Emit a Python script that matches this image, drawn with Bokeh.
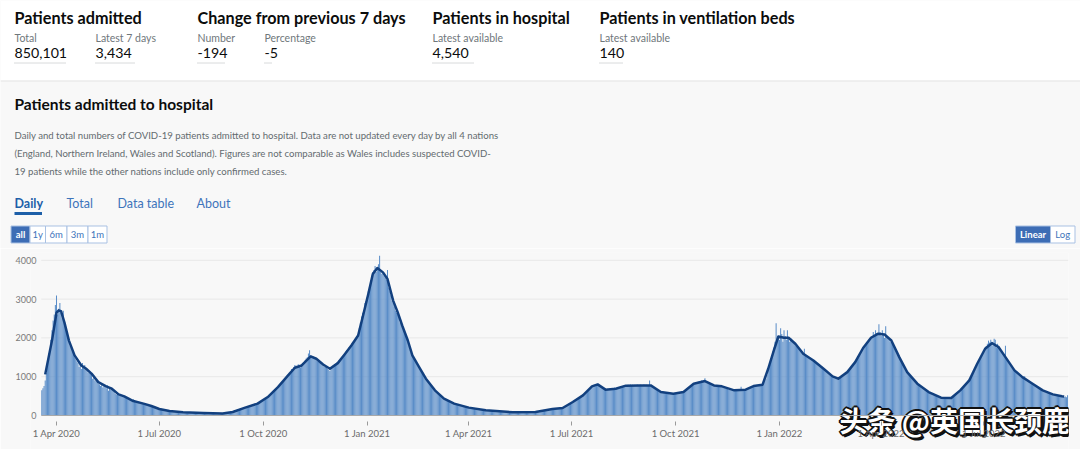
from datetime import datetime, timedelta

import pandas as pd
from bokeh.core.properties import value
from bokeh.embed import file_html
from bokeh.models import FixedTicker, Range1d
from bokeh.plotting import figure
from bokeh.resources import INLINE

# ---------------------------------------------------------------- data
headline_titles = ["Patients admitted", "Change from previous 7 days",
                   "Patients in hospital", "Patients in ventilation beds"]
metric_labels = ["Total", "Latest 7 days", "Number", "Percentage",
                 "Latest available", "Latest available"]
metric_values = ["850,101", "3,434", "-194", "-5", "4,540", "140"]

section_title = "Patients admitted to hospital"
description = [
    "Daily and total numbers of COVID-19 patients admitted to hospital. Data are not updated every day by all 4 nations",
    "(England, Northern Ireland, Wales and Scotland). Figures are not comparable as Wales includes suspected COVID-",
    "19 patients while the other nations include only confirmed cases.",
]
tabs = ["Daily", "Total", "Data table", "About"]
range_buttons = ["all", "1y", "6m", "3m", "1m"]
scale_buttons = ["Linear", "Log"]

first_day = "2020-03-19"
# daily patients admitted (one value per day)
admissions_daily = [
    650, 700, 760, 900, 1100, 1350, 1600,
    1700, 1950, 2200, 2450, 2600, 2850, 3090,
    2600, 2750, 2900, 2650, 2500, 2700, 2450,
    2300, 2100, 2050, 1900, 1800, 1750, 1650,
    1600, 1500, 1450, 1400, 1350, 1250, 1300,
    1200, 1350, 1250, 1300, 1220, 1150, 1100,
    1130, 1080, 1050, 950, 1000, 900, 880,
    870, 820, 800, 760, 800, 720, 780,
    740, 700, 780, 640, 700, 660, 690,
    650, 620, 560, 540, 600, 520, 510,
    520, 500, 480, 510, 450, 470, 430,
    420, 400, 390, 380, 420, 350, 340,
    350, 330, 320, 310, 300, 330, 290,
    290, 270, 280, 260, 250, 240, 230,
    220, 210, 200, 190, 180, 175, 165,
    155, 150, 140, 135, 130, 125, 120,
    118, 115, 110, 105, 108, 100, 98,
    95, 92, 90, 88, 85, 84, 82,
    80, 78, 77, 76, 75, 74, 73,
    72, 70, 69, 68, 70, 66, 65,
    66, 64, 63, 62, 61, 63, 60,
    60, 58, 57, 56, 58, 55, 54,
    53, 52, 50, 49, 51, 48, 49,
    52, 56, 60, 65, 70, 74, 80,
    88, 95, 105, 115, 120, 130, 140,
    150, 165, 175, 185, 195, 205, 220,
    225, 235, 250, 255, 265, 270, 285,
    290, 300, 320, 330, 345, 360, 375,
    390, 410, 440, 470, 490, 510, 530,
    560, 590, 620, 650, 680, 700, 740,
    770, 800, 840, 870, 910, 930, 980,
    1000, 1050, 1100, 1130, 1200, 1170, 1250,
    1300, 1280, 1250, 1320, 1300, 1240, 1300,
    1330, 1380, 1420, 1470, 1500, 1600, 1680,
    1550, 1480, 1520, 1500, 1450, 1420, 1400,
    1380, 1350, 1360, 1300, 1290, 1250, 1260,
    1230, 1200, 1170, 1150, 1220, 1250, 1290,
    1300, 1320, 1360, 1380, 1420, 1440, 1480,
    1510, 1560, 1600, 1640, 1690, 1700, 1760,
    1780, 1820, 1850, 1900, 1950, 2000, 2050,
    2100, 2250, 2400, 2550, 2650, 2700, 2900,
    2950, 3050, 3200, 3300, 3450, 3600, 3700,
    3750, 3850, 3700, 3800, 3900, 4120, 3700,
    3650, 3700, 3600, 3550, 3500, 3750, 3300,
    3200, 3100, 2950, 2900, 2800, 2700, 2650,
    2600, 2550, 2400, 2350, 2300, 2200, 2150,
    2050, 1950, 1900, 1800, 1700, 1620, 1550,
    1480, 1430, 1380, 1330, 1290, 1240, 1200,
    1140, 1100, 1050, 1000, 960, 920, 880,
    840, 800, 760, 720, 690, 650, 620,
    590, 560, 530, 500, 480, 460, 440,
    420, 410, 395, 380, 370, 355, 345,
    320, 310, 300, 295, 290, 285, 280,
    270, 260, 250, 240, 230, 220, 210,
    205, 200, 195, 190, 185, 180, 175,
    170, 165, 160, 155, 150, 145, 140,
    136, 133, 130, 127, 125, 122, 120,
    117, 115, 112, 110, 108, 106, 105,
    102, 100, 98, 96, 95, 93, 92,
    88, 86, 85, 84, 83, 82, 82,
    82, 81, 82, 83, 84, 84, 85,
    86, 86, 87, 87, 88, 88, 89,
    90, 91, 93, 95, 97, 99, 101,
    108, 115, 122, 130, 138, 145, 150,
    155, 160, 162, 165, 170, 172, 175,
    178, 180, 183, 186, 188, 190, 195,
    210, 230, 250, 270, 285, 300, 315,
    330, 350, 370, 390, 410, 430, 450,
    470, 490, 510, 540, 560, 590, 610,
    640, 660, 690, 710, 740, 770, 790,
    800, 810, 820, 790, 760, 740, 720,
    680, 660, 670, 650, 690, 660, 700,
    680, 700, 660, 720, 690, 710, 700,
    720, 740, 730, 760, 750, 780, 770,
    780, 790, 760, 800, 770, 790, 780,
    790, 770, 800, 760, 780, 790, 770,
    780, 800, 770, 790, 760, 780, 900,
    770, 760, 740, 710, 690, 660, 640,
    620, 610, 600, 590, 580, 600, 570,
    570, 560, 580, 550, 570, 560, 560,
    560, 570, 580, 560, 590, 600, 590,
    610, 630, 650, 670, 690, 710, 730,
    750, 780, 800, 820, 830, 850, 860,
    870, 880, 860, 900, 890, 880, 960,
    870, 860, 850, 830, 810, 800, 790,
    780, 770, 760, 750, 760, 740, 750,
    740, 730, 720, 700, 690, 680, 670,
    660, 650, 650, 640, 640, 650, 630,
    640, 650, 660, 740, 660, 670, 660,
    670, 680, 700, 710, 720, 730, 745,
    760, 770, 775, 780, 785, 790, 790,
    800, 810, 850, 900, 950, 1050, 1200,
    1300, 1400, 1550, 1650, 1750, 1900, 2380,
    2000, 2050, 1950, 2250, 2100, 1900, 2200,
    2050, 1950, 2200, 2000, 1900, 2000, 1950,
    1880, 1850, 1800, 1770, 1750, 1720, 1700,
    1650, 1640, 1600, 1720, 1550, 1540, 1520,
    1490, 1470, 1450, 1430, 1410, 1390, 1380,
    1340, 1310, 1290, 1260, 1240, 1220, 1200,
    1180, 1160, 1130, 1100, 1080, 1050, 1030,
    1010, 990, 980, 970, 960, 950, 950,
    970, 990, 1010, 1040, 1060, 1090, 1120,
    1150, 1190, 1230, 1270, 1300, 1340, 1380,
    1420, 1470, 1530, 1580, 1640, 1690, 1740,
    1780, 1820, 1860, 1900, 1950, 1990, 2030,
    2050, 2150, 2080, 2200, 2120, 2100, 2350,
    2150, 2050, 2200, 2100, 2000, 2300, 2050,
    2000, 1950, 1900, 1870, 1830, 1800, 1750,
    1700, 1640, 1580, 1510, 1450, 1390, 1340,
    1280, 1240, 1190, 1140, 1100, 1050, 1010,
    980, 950, 920, 890, 860, 830, 800,
    780, 760, 740, 710, 690, 660, 640,
    620, 610, 590, 570, 560, 540, 530,
    520, 510, 500, 490, 470, 460, 455,
    455, 450, 445, 440, 445, 450, 450,
    460, 480, 500, 530, 560, 580, 610,
    630, 660, 690, 720, 750, 780, 810,
    850, 900, 950, 1000, 1050, 1100, 1160,
    1220, 1270, 1330, 1380, 1440, 1500, 1560,
    1620, 1680, 1740, 1790, 1850, 1930, 1880,
    1950, 1900, 1800, 1980, 1950, 1750, 1850,
    1750, 1700, 1650, 1620, 1580, 1540, 1800,
    1460, 1420, 1380, 1330, 1290, 1240, 1200,
    1160, 1130, 1100, 1080, 1050, 1030, 1000,
    990, 970, 1010, 950, 920, 900, 880,
    850, 840, 820, 800, 780, 760, 740,
    720, 700, 680, 660, 640, 630, 610,
    600, 590, 580, 570, 560, 550, 545,
    540, 530, 520, 510, 505, 500, 495,
    490, 485, 480, 490, 470, 520,
]

# 7-day rolling average line
avg_dates = [
    "2020-03-22", "2020-03-28", "2020-04-01", "2020-04-03", "2020-04-05", "2020-04-08",
    "2020-04-12", "2020-04-17", "2020-04-23", "2020-04-27", "2020-05-02", "2020-05-08",
    "2020-05-15", "2020-05-20", "2020-05-26", "2020-05-31", "2020-06-08", "2020-06-17",
    "2020-06-24", "2020-07-01", "2020-07-10", "2020-07-22", "2020-08-09", "2020-08-26",
    "2020-09-04", "2020-09-15", "2020-09-26", "2020-10-05", "2020-10-14", "2020-10-23",
    "2020-10-29", "2020-11-04", "2020-11-12", "2020-11-17", "2020-11-23", "2020-11-29",
    "2020-12-06", "2020-12-12", "2020-12-18", "2020-12-24", "2020-12-28", "2021-01-02",
    "2021-01-06", "2021-01-10", "2021-01-15", "2021-01-19", "2021-01-24", "2021-01-28",
    "2021-02-01", "2021-02-06", "2021-02-10", "2021-02-16", "2021-02-22", "2021-03-02",
    "2021-03-10", "2021-03-19", "2021-04-01", "2021-04-16", "2021-05-10", "2021-05-30",
    "2021-06-14", "2021-06-23", "2021-07-02", "2021-07-11", "2021-07-19", "2021-07-24",
    "2021-07-31", "2021-08-09", "2021-08-18", "2021-08-30", "2021-09-09", "2021-09-18",
    "2021-09-29", "2021-10-08", "2021-10-17", "2021-10-27", "2021-11-04", "2021-11-11",
    "2021-11-22", "2021-12-02", "2021-12-09", "2021-12-17", "2021-12-22", "2021-12-27",
    "2021-12-31", "2022-01-05", "2022-01-09", "2022-01-15", "2022-01-22", "2022-01-31",
    "2022-02-09", "2022-02-17", "2022-02-22", "2022-03-02", "2022-03-09", "2022-03-16",
    "2022-03-23", "2022-03-29", "2022-04-04", "2022-04-10", "2022-04-17", "2022-04-24",
    "2022-05-03", "2022-05-13", "2022-05-24", "2022-06-02", "2022-06-10", "2022-06-18",
    "2022-06-25", "2022-07-02", "2022-07-08", "2022-07-14", "2022-07-20", "2022-07-28",
    "2022-08-04", "2022-08-13", "2022-08-22", "2022-08-31", "2022-09-08", "2022-09-10",
]
avg_values = [
    1060, 1930, 2650, 2710, 2690, 2400,
    1930, 1550, 1290, 1210, 1080, 860,
    750, 690, 545, 494, 373, 306,
    244, 167, 116, 82, 64, 49,
    90, 203, 306, 476, 733, 1033,
    1231, 1290, 1522, 1462, 1316, 1205,
    1350, 1573, 1805, 2062, 2532, 3133,
    3648, 3802, 3689, 3519, 2961, 2661,
    2319, 1933, 1548, 1247, 949, 648,
    434, 306, 203, 134, 82, 90,
    167, 193, 347, 519, 751, 802,
    666, 691, 769, 776, 776, 604,
    563, 604, 820, 887, 776, 751,
    648, 666, 758, 794, 1205, 1676,
    2036, 2003, 2003, 1848, 1591, 1419,
    1205, 1008, 949, 1118, 1375, 1740,
    2003, 2105, 2087, 1933, 1504, 1118,
    820, 604, 460, 450, 648, 905,
    1334, 1720, 1864, 1761, 1504, 1162,
    990, 820, 648, 545, 494, 490,
]

y_ticks = [0, 1000, 2000, 3000, 4000]
x_tick_dates = ["2020-04-01", "2020-07-01", "2020-10-01", "2021-01-01", "2021-04-01",
                "2021-07-01", "2021-10-01", "2022-01-01", "2022-04-01", "2022-07-01"]
x_tick_labels = ["1 Apr 2020", "1 Jul 2020", "1 Oct 2020", "1 Jan 2021", "1 Apr 2021",
                 "1 Jul 2021", "1 Oct 2021", "1 Jan 2022", "1 Apr 2022", "1 Jul 2022"]
watermark = "头条 @英国长颈鹿"

# ---------------------------------------------------------------- layout / style
FONT = "Lato"
W = 1080
TOP_H = 248                      # header + intro block (page y 0..248)
CH_H = 449 - TOP_H               # chart block (page y 248..449)
FL, FR, FT = 30, 1068, 252       # chart frame edges on the page
GRID_L = 41                      # page x where the plotted area starts
ORIGIN_PX, DAY_PX = 56, 1.1297   # page x of 1 Apr 2020, pixels per day
Y0_PX, PX_PER_UNIT = 415, 0.0388
BG = "#f8f8f8"
BLUE = "#3e74bb"
DARK = "#0b0c0c"
GREY = "#6f777b"

title_x = [14, 197, 432, 599]
metric_x = [14, 95, 197, 264, 432, 599]
metric_w = [52, 40, 27, 7, 41, 24]
tab_x = [14, 66, 117, 196]
range_edges = [10.5, 29.5, 45, 66.5, 87.5, 106.5]
scale_edges = [1015, 1050, 1074.5]


def txt(p, x, y, s, size, color, bold=False, align="left", font=FONT, **kw):
    p.text(x=[x], y=[y], text=[s], text_font=value(font), text_font_size=f"{size}px",
           text_font_style="bold" if bold else "normal", text_color=color,
           text_align=align, text_baseline="middle", **kw)


# ================================================= header + intro (pixel space)
top = figure(width=W, height=TOP_H, x_range=Range1d(0, W), y_range=Range1d(TOP_H, 0),
             x_axis_type=None, y_axis_type=None, toolbar_location=None,
             output_backend="svg", min_border=0, background_fill_color=BG,
             border_fill_color=BG, outline_line_color=None)
top.grid.visible = False

top.quad(left=[0], right=[W], top=[0], bottom=[80], fill_color="white", line_color=None)
top.segment(x0=[0], y0=[80.5], x1=[W], y1=[80.5], line_color="#e4e4e4", line_width=1)
for s, x in zip(headline_titles, title_x):
    txt(top, x, 16.5, s, 16.2, DARK, bold=True)
for s, v, x, w in zip(metric_labels, metric_values, metric_x, metric_w):
    txt(top, x, 37, s, 10.5, GREY)
    txt(top, x, 52.5, v, 14.2, DARK)
    top.segment(x0=[x], y0=[62.5], x1=[x + w], y1=[62.5], line_color="#b1b4b6",
                line_width=1, line_dash="1 1")

txt(top, 14, 103.5, section_title, 15.5, DARK, bold=True)
for i, line in enumerate(description):
    txt(top, 14, 135 + 18.2 * i, line, 9.6, "#636b6f")
for i, (s, x) in enumerate(zip(tabs, tab_x)):
    txt(top, x, 202.5, s, 12.5, "#1d5fa8" if i == 0 else BLUE, bold=(i == 0))
top.quad(left=[14], right=[41.5], top=[211.5], bottom=[214.5], fill_color="#1d5fa8",
         line_color=None)

for edges, labels in ((range_edges, range_buttons), (scale_edges, scale_buttons)):
    for i, s in enumerate(labels):
        l, r = edges[i], edges[i + 1]
        top.quad(left=[l], right=[r], top=[225.5], bottom=[242.5],
                 fill_color="#3d6db5" if i == 0 else "white", line_color="#a9c1e3",
                 line_width=1)
        txt(top, (l + r) / 2, 234, s, 9.5, "white" if i == 0 else BLUE, bold=(i == 0),
            align="center")

# ================================================= chart
origin = datetime(2020, 4, 1)
x_lo = origin - timedelta(days=(ORIGIN_PX - FL) / DAY_PX)
x_hi = origin + timedelta(days=(FR - ORIGIN_PX) / DAY_PX)
y_lo = -(TOP_H + CH_H - Y0_PX) / PX_PER_UNIT
y_hi = (Y0_PX - FT) / PX_PER_UNIT
chart = figure(width=W, height=CH_H, x_axis_type="datetime", x_axis_location="above",
               x_range=Range1d(x_lo, x_hi), y_range=Range1d(y_lo, y_hi),
               toolbar_location=None, output_backend="svg",
               min_border_left=FL, min_border_right=W - FR, min_border_top=FT - TOP_H,
               min_border_bottom=0, background_fill_color=BG, border_fill_color=BG,
               outline_line_color=None)
chart.extra_x_ranges = {"px": Range1d(FL, FR)}
chart.extra_y_ranges = {"px": Range1d(TOP_H + CH_H, FT)}

bar_dates = pd.date_range(first_day, periods=len(admissions_daily), freq="D")
avg_dt = pd.to_datetime(avg_dates)
grid_start = bar_dates[0] - pd.Timedelta(hours=12)

# horizontal grid lines, starting where the bars start
chart.xgrid.visible = False
chart.ygrid.visible = False
chart.segment(x0=[grid_start] * len(y_ticks), x1=[x_hi] * len(y_ticks), y0=y_ticks,
              y1=y_ticks, line_color="#e8e8e8", line_width=1)

chart.vbar(x=bar_dates, top=admissions_daily, width=0.9 * 86400000,
           fill_color="#5a8dc8", line_color=None)
chart.line(x=avg_dt, y=avg_values, line_color="#12407f", line_width=2.5, line_join="round")

ya = chart.yaxis[0]
ya.ticker = FixedTicker(ticks=y_ticks)
ya.axis_line_color = None
ya.major_tick_line_color = None
ya.minor_tick_line_color = None
ya.major_tick_out = 0
ya.minor_tick_out = 0
ya.major_label_standoff = FL - (GRID_L - 5)
ya.major_label_text_font = FONT
ya.major_label_text_font_size = "9px"
ya.major_label_text_color = "#7a7a7a"

# date axis drawn on the zero line, labels hanging below it
tick_ms = [pd.Timestamp(d).timestamp() * 1000.0 for d in x_tick_dates]
xa = chart.xaxis[0]
xa.fixed_location = 0
xa.bounds = (grid_start, x_hi)
xa.ticker = FixedTicker(ticks=tick_ms)
xa.major_label_overrides = {t: s for t, s in zip(tick_ms, x_tick_labels)}
xa.axis_line_color = "#a8a8a8"
xa.major_tick_line_color = "#9a9a9a"
xa.major_tick_out = -6
xa.major_tick_in = 10
xa.minor_tick_line_color = None
xa.minor_tick_out = -6
xa.minor_tick_in = 0
xa.major_label_standoff = -23
xa.major_label_text_font = FONT
xa.major_label_text_font_size = "9.5px"
xa.major_label_text_color = "#6b6b6b"

# watermark (white text with a dark outline and shadow), in page pixels
outline = [(3, 2), (2, 3), (-2, 0), (2, 0), (0, -2), (0, 2),
           (-1, -1), (1, 1), (-1, 1), (1, -1)]
for dx, dy in outline:
    txt(chart, 839 + dx, 419 + dy, watermark, 28, "#111111", bold=True,
        font="Noto Sans CJK SC", x_range_name="px", y_range_name="px")
txt(chart, 839, 419, watermark, 28, "white", bold=True,
    font="Noto Sans CJK SC", x_range_name="px", y_range_name="px")

open("out.html", "w").write(file_html([top, chart], INLINE))
